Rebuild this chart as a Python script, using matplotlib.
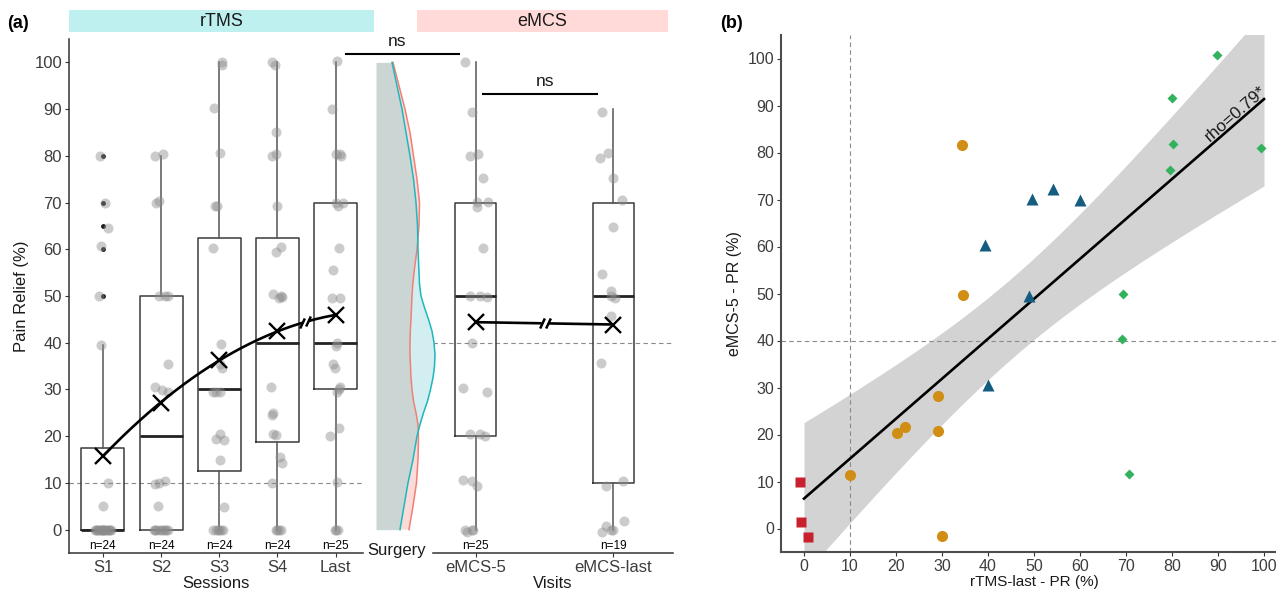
import matplotlib
matplotlib.use("Agg")
import matplotlib.pyplot as plt
import numpy as np
from matplotlib.patches import Rectangle

plt.rcParams['font.family'] = ['Liberation Sans', 'DejaVu Sans']

# ---------------- panel (a) data ----------------
sessions = ['S1', 'S2', 'S3', 'S4', 'Last']
visits = ['eMCS-5', 'eMCS-last']
n_sessions = [24, 24, 24, 24, 25]
n_visits = [25, 19]

# box stats
whislo_s = [0, 0, 0, 0, 0]
q1_s = [0, 0, 12.5, 18.75, 30]
med_s = [0, 20, 30, 40, 40]
q3_s = [17.5, 50, 62.5, 62.5, 70]
whishi_s = [39.5, 80, 100, 100, 100]
fliers_s = [[50, 60, 65, 70, 80], [], [], [], []]

whislo_v = [0, 0]
q1_v = [20, 10]
med_v = [50, 50]
q3_v = [70, 70]
whishi_v = [100, 90]

means_s = [15.8, 27.1, 36.3, 42.5, 45.9]
means_v = [44.4, 43.9]

# individual patients (pain relief %)
pts_s1 = [80, 70, 64.5, 60.7, 50, 39.5, 10, 5,
          0, 0, 0, 0, 0, 0, 0, 0, 0, 0, 0, 0, 0, 0, 0, 0]
pts_s2 = [80, 80.3, 70, 70.3, 50, 50, 50, 35.5, 30.5, 29.8, 29.5, 10.5, 10, 9.7, 5,
          0, 0, 0, 0, 0, 0, 0, 0, 0]
pts_s3 = [100, 99.5, 90.3, 80.7, 69.3, 69.3, 60.2, 39.7, 35.5, 34.5, 29.5, 29.5, 29.5,
          20.5, 19.5, 19.2, 15, 4.8, 0, 0, 0, 0, 0, 0]
pts_s4 = [100, 99.5, 85, 80, 80.3, 69.3, 60.5, 59.5, 50.5, 50, 49.5, 49.8, 30.5, 25,
          24.5, 20.5, 20.2, 15.5, 14.3, 10, 0, 0, 0, 0]
pts_last = [100.3, 90, 80.3, 80.3, 80, 69.8, 69.8, 69.3, 60.2, 55.5, 49.5, 49.5, 40,
            39.3, 35.5, 34.5, 30.5, 29.5, 30, 21.7, 20, 10.3, 0, 0, 0]
pts_e5 = [100, 89.4, 79.9, 80.4, 75.3, 70.2, 70.2, 69.1, 60.2, 50, 50, 49.8, 40, 30.4,
          29.4, 20.5, 20.5, 20, 10.7, 10.5, 9.3, 0, 0, -0.5, 0]
pts_elast = [89.4, 79.6, 80.5, 75.2, 70.5, 64.8, 54.8, 51, 50, 49.5, 45.7, 35.7, 9.3,
             10.5, 1.8, -0.4, 0.7, 0, 0]

# horizontal jitter of the dots (category units)
jit_s1 = [-0.05, 0.03, 0.09, -0.03, -0.07, -0.03, 0.09, 0.0, -0.14, -0.10, -0.06, -0.02,
          0.02, 0.06, 0.10, 0.14, -0.12, -0.08, -0.04, 0.0, 0.04, 0.08, 0.12, -0.01]
jit_s2 = [-0.10, 0.04, -0.08, -0.03, -0.04, 0.06, 0.12, 0.11, -0.11, 0.02, 0.11, 0.06,
          -0.03, -0.11, -0.06, -0.13, -0.08, -0.04, 0.0, 0.04, 0.08, 0.12, -0.10, 0.06]
jit_s3 = [0.05, 0.04, -0.09, 0.01, -0.07, -0.04, -0.10, 0.03, 0.02, 0.05, -0.10, -0.05,
          0.01, 0.01, -0.05, 0.08, 0.01, 0.08, -0.10, -0.02, 0.06, 0.03, -0.06, 0.0]
jit_s4 = [-0.09, -0.04, -0.03, -0.09, -0.03, 0.0, 0.06, -0.03, -0.07, 0.06, 0.02, 0.08,
          -0.11, -0.07, -0.09, -0.08, -0.03, 0.05, 0.07, -0.09, -0.03, 0.06, 0.03, 0.0]
jit_last = [0.02, -0.06, 0.0, 0.07, 0.10, 0.01, 0.12, 0.04, 0.06, -0.05, -0.07, 0.07,
            0.02, 0.01, -0.04, -0.01, 0.07, 0.02, 0.05, 0.06, -0.10, 0.03, -0.01, 0.04, 0.0]
jit_e5 = [-0.08, -0.03, -0.04, 0.02, 0.05, 0.01, 0.09, 0.01, 0.05, -0.04, 0.03, 0.08,
          -0.03, -0.09, 0.08, -0.04, 0.03, 0.07, -0.09, -0.03, 0.01, -0.08, -0.03, -0.06, -0.02]
jit_elast = [-0.08, -0.10, -0.04, 0.0, 0.06, 0.0, -0.08, -0.02, -0.02, 0.01, -0.02,
             -0.09, -0.05, 0.07, 0.08, -0.08, -0.05, 0.0, -0.02]

# split density at "Surgery" (relative density)
dens_levels = [0, 5, 10, 15, 20, 22.5, 25, 27.5, 30, 32.5, 35, 37.5, 40, 42.5, 45, 47.5,
               50, 52.5, 55, 60, 65, 70, 75, 80, 85, 90, 95, 100]
dens_teal = [24, 28, 32, 37, 41, 44, 47.5, 51.5, 54.5, 57, 58.5, 59, 58, 56, 52.5, 48.5,
             45, 43.5, 43, 42, 41.5, 40, 37.5, 34, 30, 26, 21, 16]
dens_red = [33, 37, 40.5, 42, 42.5, 42, 40, 37.5, 36, 35, 34.5, 34, 34, 34.3, 35, 35.5,
            36, 36.8, 38, 41, 43, 43.5, 41, 37.5, 34, 29, 23, 17]

# ---------------- panel (b) data ----------------
sq_x = [-0.87, -0.65, 0.8]
sq_y = [9.85, 1.4, -1.85]
circ_x = [10, 20.3, 21.9, 29.1, 29.1, 30, 34.4, 34.6]
circ_y = [11.4, 20.4, 21.7, 28.2, 20.7, -1.5, 81.7, 49.6]
tri_x = [39.4, 40.1, 49.5, 54.2, 60, 49]
tri_y = [60.3, 30.5, 70.1, 72.3, 69.9, 49.4]
dia_x = [89.7, 80.1, 80.3, 99.3, 79.5, 69.4, 69.1, 70.6]
dia_y = [100.8, 91.5, 81.8, 81, 76.2, 49.9, 40.4, 11.5]
fit_range = [0, 100]
t_crit = 2.069
rho_label = 'rho=0.79*'

# ---------------- figure ----------------
W, H = 1276, 592
fig = plt.figure(figsize=(W / 100, H / 100), dpi=100)


def px_axes(x0, x1, y0, y1):
    return fig.add_axes([x0 / W, 1 - y1 / H, (x1 - x0) / W, (y1 - y0) / H])


ax1 = px_axes(69, 363, 39, 553)
ax2 = px_axes(433, 673, 39, 553)
axd = px_axes(363, 433, 39, 553)
axb = px_axes(781, 1287, 35, 552)
ax2.patch.set_visible(False)

axis_col = '#333333'
tick_col = '#3d3d3d'
dash_col = '#8a8a8a'
dot_col = '#8c8c8c'

for ax in (ax1, axd, ax2):
    ax.set_ylim(-5, 105)
    for s in ('top', 'right'):
        ax.spines[s].set_visible(False)
    ax.spines['left'].set_color(axis_col)
    ax.spines['bottom'].set_color(axis_col)
    ax.spines['left'].set_linewidth(1.1)
    ax.spines['bottom'].set_linewidth(1.1)
    ax.tick_params(colors=axis_col, labelcolor=tick_col, labelsize=12, length=3, width=0.8, pad=2)


def draw_group(ax, names, lo, q1, med, q3, hi, fliers, pts, jits, means, ns, width):
    pos = np.arange(1, len(names) + 1)
    stats = []
    for i in range(len(names)):
        stats.append(dict(whislo=lo[i], q1=q1[i], med=med[i], q3=q3[i], whishi=hi[i],
                          fliers=fliers[i]))
    ax.bxp(stats, positions=pos, widths=width, showcaps=False, manage_ticks=False,
           boxprops=dict(color='#3a3a3a', lw=1.1),
           medianprops=dict(color='#222222', lw=2.0),
           whiskerprops=dict(color='#555555', lw=1.1),
           flierprops=dict(marker='o', ms=3.5, mfc='#1a1a1a', mec='none'),
           zorder=2)
    for p, vals, offs in zip(pos, pts, jits):
        ax.plot(p + np.array(offs), vals, 'o', ms=7.2, color=dot_col, alpha=0.45,
                mec='none', zorder=3)
    ax.plot(pos, means, 'x', ms=12, mew=1.7, color='black', zorder=6)
    for p, n in zip(pos, ns):
        ax.text(p, -3.6, 'n=%d' % n, ha='center', va='center', fontsize=8.5, color='black')
    ax.set_xticks(pos)
    ax.set_xticklabels(names)
    return pos


def break_mark(ax, xa, xb, ya, yb):
    ax.plot([xa, xb], [ya, yb], color='white', lw=3, zorder=6.5, solid_capstyle='butt')
    ax.plot([xa, xb], [ya, yb], marker=(2, 0, -25), ms=8, mew=1.8, color='black',
            ls='none', zorder=7)


# rTMS sessions
ax1.axhline(10, color=dash_col, lw=0.8, ls=(0, (4, 3)), zorder=1)
pos_s = draw_group(ax1, sessions, whislo_s, q1_s, med_s, q3_s, whishi_s, fliers_s,
                   [pts_s1, pts_s2, pts_s3, pts_s4, pts_last],
                   [jit_s1, jit_s2, jit_s3, jit_s4, jit_last], means_s, n_sessions, 0.74)
coef = np.polyfit(pos_s, means_s, 2)
xc = np.linspace(pos_s[0], pos_s[-1], 200)
ax1.plot(xc, np.polyval(coef, xc), color='black', lw=1.9, zorder=5)
break_mark(ax1, 4.43, 4.53, np.polyval(coef, 4.43), np.polyval(coef, 4.53))
ax1.set_xlim(0.417, 5.47)
ax1.set_yticks(np.arange(0, 101, 10))
ax1.set_ylabel('Pain Relief (%)', fontsize=12, labelpad=4, color='#1a1a1a')
ax1.set_xlabel('Sessions', fontsize=12, labelpad=1, color='#1a1a1a')

# eMCS visits
ax2.axhline(40, color=dash_col, lw=0.8, ls=(0, (4, 3)), zorder=1)
pos_v = draw_group(ax2, visits, whislo_v, q1_v, med_v, q3_v, whishi_v, [[], []],
                   [pts_e5, pts_elast], [jit_e5, jit_elast], means_v, n_visits, 0.3)
ax2.plot(pos_v, means_v, color='black', lw=1.9, zorder=5)
xb1, xb2 = 1.48, 1.525
yb1 = np.interp(xb1, pos_v, means_v)
yb2 = np.interp(xb2, pos_v, means_v)
break_mark(ax2, xb1, xb2, yb1, yb2)
ax2.set_xlim(0.69, 2.434)
ax2.spines['left'].set_visible(False)
ax2.tick_params(axis='y', left=False, labelleft=False)
ax2.set_xlabel('Visits', fontsize=12, labelpad=1, color='#1a1a1a')

# surgery split density
lv = np.array(dens_levels)
dt = np.array(dens_teal)
dr = np.array(dens_red)
axd.fill_betweenx(lv, 0, np.minimum(dt, dr), color='#cbd5d4', lw=0, clip_on=False)
axd.fill_betweenx(lv, dr, dt, where=dt > dr, interpolate=True, color='#d2eef0', lw=0,
                  clip_on=False)
axd.fill_betweenx(lv, dt, dr, where=dr > dt, interpolate=True, color='#fbdad8', lw=0,
                  clip_on=False)
axd.plot(dr, lv, color='#f08078', lw=1.1, clip_on=False)
axd.plot(dt, lv, color='#1cb8bd', lw=1.1, clip_on=False)
axd.set_xlim(-13, 57)
axd.axis('off')
axd.text(21, -4.4, 'Surgery', ha='center', va='center', fontsize=12, color='#1a1a1a')

# ---------------- panel (b) ----------------
bx = np.array(sq_x + circ_x + tri_x + dia_x)
by = np.array(sq_y + circ_y + tri_y + dia_y)
slope, icpt = np.polyfit(bx, by, 1)
n_b = len(bx)
resid = by - (icpt + slope * bx)
s_err = np.sqrt(np.sum(resid ** 2) / (n_b - 2))
sxx = np.sum((bx - bx.mean()) ** 2)
xf = np.linspace(fit_range[0], fit_range[1], 200)
yf = icpt + slope * xf
hw = t_crit * s_err * np.sqrt(1 / n_b + (xf - bx.mean()) ** 2 / sxx)

axb.set_xlim(-5, 105)
axb.set_ylim(-5, 105)
axb.fill_between(xf, yf - hw, yf + hw, color='#d3d3d3', lw=0, zorder=1)
axb.axhline(40, color=dash_col, lw=0.8, ls=(0, (4, 3)), zorder=1.5)
axb.axvline(10, color=dash_col, lw=0.8, ls=(0, (4, 3)), zorder=1.5)
axb.plot(xf, yf, color='black', lw=1.9, zorder=2)
axb.plot(sq_x, sq_y, 's', ms=7.5, color='#c8202f', mec='none', zorder=3)
axb.plot(circ_x, circ_y, 'o', ms=8, color='#d18e14', mec='none', zorder=3)
axb.plot(tri_x, tri_y, '^', ms=9, color='#145c80', mec='none', zorder=3)
axb.plot(dia_x, dia_y, 'D', ms=5.5, color='#33b25e', mec='none', zorder=3)

p1 = axb.transData.transform((0, icpt))
p2 = axb.transData.transform((100, icpt + 100 * slope))
ang = np.degrees(np.arctan2(p2[1] - p1[1], p2[0] - p1[0]))
xr = 95
axb.text(xr, icpt + slope * xr, rho_label, rotation=ang, rotation_mode='anchor',
         ha='center', va='bottom', fontsize=12.5, color='#1a1a1a', zorder=4)

for s in ('top', 'right'):
    axb.spines[s].set_visible(False)
for s in ('left', 'bottom'):
    axb.spines[s].set_color('#4d4d4d')
    axb.spines[s].set_linewidth(1.5)
axb.set_xticks(np.arange(0, 101, 10))
axb.set_yticks(np.arange(0, 101, 10))
axb.tick_params(colors=axis_col, labelcolor=tick_col, labelsize=11.5, length=3, width=0.8, pad=2)
axb.set_xlabel('rTMS-last - PR (%)', fontsize=11, labelpad=1, color='#1a1a1a')
axb.set_ylabel('eMCS-5 - PR (%)', fontsize=11.5, labelpad=4, color='#1a1a1a')

# ---------------- overlay: strips, brackets, panel tags ----------------
ov = fig.add_axes([0, 0, 1, 1], zorder=10)
ov.set_xlim(0, W)
ov.set_ylim(H, 0)
ov.axis('off')
ov.add_patch(Rectangle((69, 10), 305, 22, color='#bff0f0', lw=0))
ov.add_patch(Rectangle((417, 10), 251, 22, color='#ffdad8', lw=0))
ov.text(221.5, 21, 'rTMS', ha='center', va='center', fontsize=13, color='#1a1a1a')
ov.text(542.5, 21, 'eMCS', ha='center', va='center', fontsize=13, color='#1a1a1a')
ov.plot([346, 459], [53.5, 53.5], color='black', lw=1.5)
ov.text(397, 41, 'ns', ha='center', va='center', fontsize=12.5, color='#1a1a1a')
ov.plot([483, 597], [94, 94], color='black', lw=1.5)
ov.text(545, 82, 'ns', ha='center', va='center', fontsize=12.5, color='#1a1a1a')
ov.text(7, 23, '(a)', ha='left', va='center', fontsize=13, fontweight='bold', color='black')
ov.text(720, 23, '(b)', ha='left', va='center', fontsize=13, fontweight='bold', color='black')

fig.savefig('out.png', dpi=100)
